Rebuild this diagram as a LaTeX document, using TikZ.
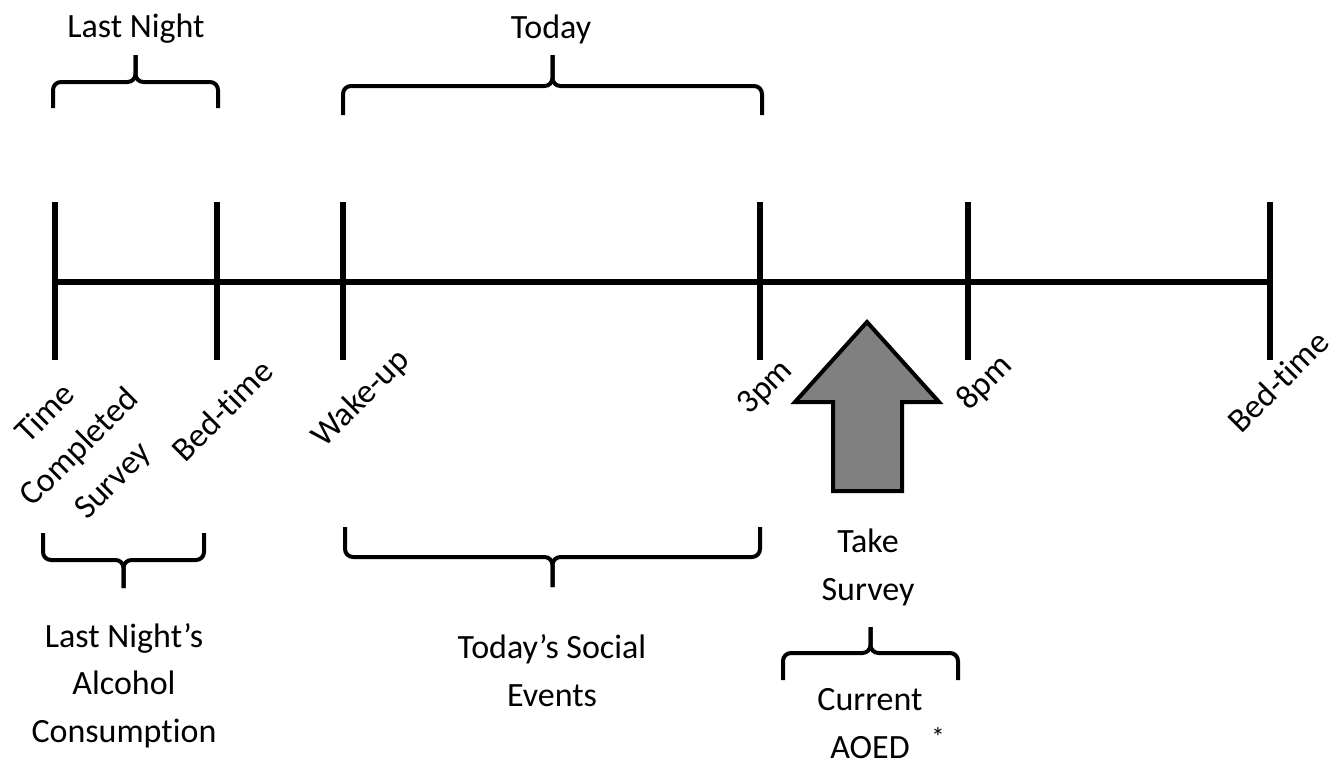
\documentclass[tikz,border=0pt]{standalone}
\usepackage{fontspec}
\setmainfont{Carlito}[Ligatures=NoCommon]
\usetikzlibrary{positioning}
\tikzstyle{axis} = [line width=5pt]
\tikzstyle{tick} = [line width=4.5pt]
\tikzstyle{curly} = [line width=3pt, rounded corners=6pt]
\tikzstyle{periodtext} = [font=\fontsize{25.5}{35.6}\selectfont, align=center, inner sep=0pt]
\tikzstyle{eventtext} = [periodtext, rotate=45]
\tikzstyle{bigarrow} = [draw, line width=3pt, fill=black!50, line join=miter]
% brace from x1 to x2: ends at y3, arm at y4, tip at y5
\newcommand{\spanbrace}[5]{%
    \draw[curly] (#1,#3) |- ({(#1+#2)/2},#4) -- ({(#1+#2)/2},#5);
    \draw[curly] (#2,#3) |- ({(#1+#2)/2},#4) -- ({(#1+#2)/2},#5);}

\begin{document}
\begin{tikzpicture}[x=0.75pt, y=-0.75pt]
    \useasboundingbox (0,0) rectangle (1336,768);

    % Timeline
    \foreach \n/\x in {survey/55, bed/217, wake/343, three/760, eight/968, bedlate/1270} {
        \coordinate (\n) at (\x,282);
        \draw[tick] (\x,202) -- (\x,360);
    }
    \draw[axis] (survey) -- (bedlate);

    % Tick labels
    \node[eventtext] (timelbl) at (80,448) {Time\\Completed\\Survey};
    \node[eventtext] (bedlbl) at (222,410) {Bed-time};
    \node[eventtext] (wakelbl) at (361,399) {Wake-up};
    \node[eventtext] (threelbl) at (766,388) {3pm};
    \node[eventtext] (eightlbl) at (985,383) {8pm};
    \node[eventtext] (bedlatelbl) at (1278,381) {Bed-time};

    % Braces
    \spanbrace{53}{218}{108}{82}{55}
    \spanbrace{343}{762}{115}{86}{55}
    \spanbrace{43}{204}{533}{560}{588}
    \spanbrace{345}{760}{527}{557}{587}
    \spanbrace{783}{958}{680}{653}{627}

    % Periods
    \node[periodtext, anchor=base] (lastnight) at (136,37) {Last Night};
    \node[periodtext, anchor=base] (today) at (551,38) {Today};
    \node[periodtext, anchor=base] (alcohol) at (124,742) {Last Night’s\\Alcohol\\Consumption};
    \node[periodtext, anchor=base] (social) at (552,706) {Today’s Social\\Events};

    % Survey
    \draw[bigarrow] (867,322) -- (939,402) -- (902,402) -- (902,491)
        -- (833,491) -- (833,402) -- (795,402) -- cycle;
    \node[periodtext, anchor=base] (take) at (868,600) {Take\\Survey};
    \node[periodtext, anchor=base] (aoed) at (870,758) {Current\\AOED};
    \node[font=\fontsize{20}{22}\selectfont, inner sep=0pt] (star) at (938,737) {*};
\end{tikzpicture}
\end{document}
